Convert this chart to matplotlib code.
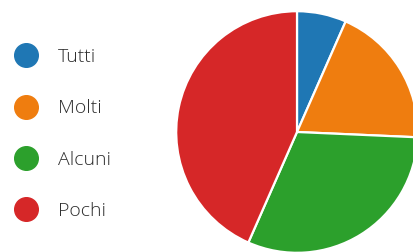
import matplotlib
matplotlib.use("Agg")
from matplotlib import pyplot as plt
from matplotlib.lines import Line2D

labels = ["Tutti", "Molti", "Alcuni", "Pochi"]
values = [6.6, 19.1, 30.9, 43.4]
colors = ["#1f77b4", "#ef7d0f", "#2ca02c", "#d62728"]

plt.rcParams['font.family'] = ['Open Sans', 'DejaVu Sans']

fig = plt.figure(figsize=(4.14, 2.52), dpi=100)
ax = fig.add_axes([175 / 414, -2 / 252, 244 / 414, 244 / 252])
ax.pie(values, colors=colors, startangle=90, counterclock=False, radius=1,
       wedgeprops=dict(edgecolor="white", linewidth=1.6))
ax.set_xlim(-1.01, 1.01)
ax.set_ylim(-1.01, 1.01)
ax.set_aspect("equal")
ax.axis("off")

handles = [Line2D([], [], marker="o", linestyle="none", markersize=17,
                  markerfacecolor=c, markeredgecolor=c) for c in colors]
leg = fig.legend(handles, labels, loc="upper left", bbox_to_anchor=(0.0338, 0.81),
                 frameon=False, fontsize=14, labelspacing=1.72, handletextpad=1.03,
                 handlelength=1.24, borderpad=0, borderaxespad=0,
                 labelcolor="#2e2e2e")
for t in leg.get_texts():
    t.set_fontweight("light")

fig.savefig("out.png", dpi=100, facecolor="white")
